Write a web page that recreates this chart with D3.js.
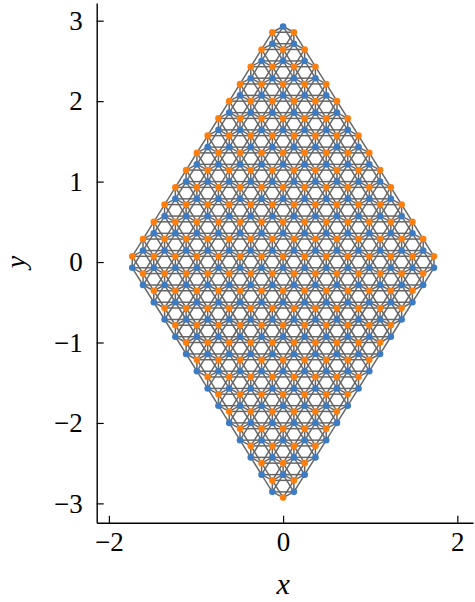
<!DOCTYPE html>
<html>
<head>
<meta charset="utf-8">
<script src="https://cdn.jsdelivr.net/npm/d3@7"></script>
<style>
  body { margin: 0; background: #fff; }
  svg text { font-family: "Liberation Serif", "DejaVu Serif", serif; }
</style>
</head>
<body>
<script>
// honeycomb flake: unit cells n1, n2 in -7..7, two sites per cell
const cellIndex = [-7, -6, -5, -4, -3, -2, -1, 0, 1, 2, 3, 4, 5, 6, 7];
const latticeConst = 0.2474;          // a  (nearest-neighbour distance a/sqrt3)
const sublattices = ["A", "B"];
const sublatticeOffsetY = [-0.0714, 0.0714];
const sublatticeColor = ["#3d7bc2", "#ff7f0e"];
const removedSites = [["A", -7, -7], ["B", 7, 7]];  // dangling corner atoms
const xTicks = [-2, 0, 2];
const yTicks = [-3, -2, -1, 0, 1, 2, 3];

const w = 475, h = 602;
const padL = 96.7, padR = 473, padT = 3, padB = 522.7;

const sites = [];
sublattices.forEach((s, si) => {
  cellIndex.forEach(n1 => {
    cellIndex.forEach(n2 => {
      if (removedSites.some(r => r[0] === s && r[1] === n1 && r[2] === n2)) return;
      sites.push({
        s: si,
        x: (n1 - n2) * latticeConst / 2,
        y: (n1 + n2) * latticeConst * Math.sqrt(3) / 2 + sublatticeOffsetY[si]
      });
    });
  });
});

// bonds: nearest (A-B) and next-nearest (A-A, B-B) neighbours
const nn = latticeConst / Math.sqrt(3);
const bonds = [];
for (let i = 0; i < sites.length; i++) {
  for (let j = i + 1; j < sites.length; j++) {
    const dd = Math.hypot(sites[i].x - sites[j].x, sites[i].y - sites[j].y);
    if (Math.abs(dd - nn) < 0.01 || Math.abs(dd - latticeConst) < 0.01) bonds.push([sites[i], sites[j]]);
  }
}

const xScale = d3.scaleLinear().domain([-2.14, 2.18]).range([padL, padR]);
const yScale = d3.scaleLinear().domain([-3.24, 3.22]).range([padB, padT]);

const svg = d3.select("body").append("svg")
  .attr("width", w)
  .attr("height", h);

svg.append("g")
  .selectAll("line")
  .data(bonds)
  .enter()
  .append("line")
  .attr("x1", d => xScale(d[0].x))
  .attr("y1", d => yScale(d[0].y))
  .attr("x2", d => xScale(d[1].x))
  .attr("y2", d => yScale(d[1].y))
  .attr("stroke", "#666")
  .attr("stroke-width", 1.5);

svg.append("g")
  .selectAll("circle")
  .data(sites)
  .enter()
  .append("circle")
  .attr("cx", d => xScale(d.x))
  .attr("cy", d => yScale(d.y))
  .attr("r", 3.3)
  .attr("fill", d => sublatticeColor[d.s]);

const fmt = d3.format("d");
const xAxis = d3.axisBottom(xScale).tickValues(xTicks).tickFormat(fmt).tickSizeInner(-7).tickSizeOuter(0).tickPadding(9);
const yAxis = d3.axisLeft(yScale).tickValues(yTicks).tickFormat(fmt).tickSizeInner(-7).tickSizeOuter(0).tickPadding(14);

const gx = svg.append("g")
  .attr("transform", "translate(0," + padB + ")")
  .call(xAxis);
const gy = svg.append("g")
  .attr("transform", "translate(" + padL + ",0)")
  .call(yAxis);

[gx, gy].forEach(g => {
  g.select(".domain").attr("stroke", "#000").attr("stroke-width", 1.4);
  g.selectAll(".tick line").attr("stroke", "#000").attr("stroke-width", 1.2);
  g.selectAll(".tick text")
    .attr("font-family", "Liberation Serif, DejaVu Serif, serif")
    .attr("font-size", 27)
    .attr("fill", "#000");
});

svg.append("text")
  .text("x")
  .attr("x", xScale(0))
  .attr("y", 594)
  .attr("text-anchor", "middle")
  .attr("font-style", "italic")
  .attr("font-size", 30);

svg.append("text")
  .text("y")
  .attr("transform", "translate(25," + yScale(0) + ") rotate(-90)")
  .attr("text-anchor", "middle")
  .attr("font-style", "italic")
  .attr("font-size", 28);
</script>
</body>
</html>
